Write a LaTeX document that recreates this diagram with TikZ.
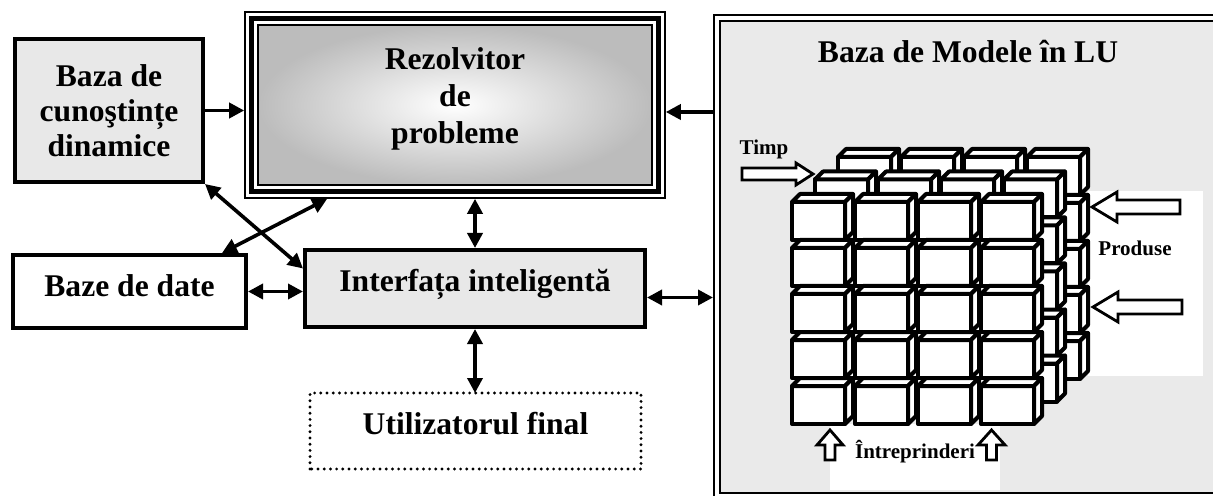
\documentclass[tikz,border=0pt]{standalone}
\usepackage{fontspec}
\setmainfont{Liberation Serif}
\usetikzlibrary{arrows.meta}
\definecolor{boxgray}{HTML}{E8E8E8}
\definecolor{panelgray}{HTML}{EAEAEA}
\definecolor{shadegray}{HTML}{BCBCBC}
\newcommand\bigsize{\fontsize{15.8}{17.5}\selectfont}
\newcommand\rezsize{\fontsize{15.8}{18.5}\selectfont}
\newcommand\smallsize{\fontsize{10.5}{12}\selectfont}
% one small cube: front face with its top-left corner at (#1,#2), plus top and right faces
\newcommand\cubeat[2]{%
  \draw[cubeface] (#1,#2) rectangle ++(53,38);
  \draw[cubeface] (#1,#2) -- ++(8,-8) -- ++(53,0) -- ++(-8,8) -- cycle;
  \draw[cubeface] ({#1+53},#2) -- ++(8,-8) -- ++(0,38) -- ++(-8,8) -- cycle;
}
\begin{document}
\begin{tikzpicture}[x=0.5pt,y=-0.5pt,
  box/.style={draw, line width=2pt, inner sep=0pt, font=\bfseries\bigsize, align=center},
  tip/.tip={Triangle[length=7.5pt,width=7.5pt]},
  arr/.style={line width=1.8pt, -tip},
  darr/.style={line width=1.8pt, tip-tip},
  cubeface/.style={fill=white, line width=2pt, line join=round},
  hollow/.style={draw, fill=white, line width=1.4pt},
  lbl/.style={font=\bfseries\smallsize, inner sep=0pt}]
\useasboundingbox (0,0) rectangle (1213,496);

% model base panel with double border
\node[draw, double=white, double distance=2.25pt, line width=1pt, fill=panelgray,
      minimum width=256.6pt, minimum height=239.1pt, inner sep=0pt, outer sep=1.9pt]
      (mb) at (973.4,257.1) {};
\node[font=\bfseries\bigsize, anchor=base, inner sep=0pt] (mbtitle) at (968,63) {Baza de Modele în LU};

% white backgrounds behind the side labels
\fill[white] (1088,191) rectangle (1203,376);
\fill[white] (830,424) rectangle (1000,490);

% cube of models: three layers of 5 x 4 cubes, drawn back to front
\foreach \l in {2,1,0}{
  \foreach \r in {0,...,4}{
    \foreach \c in {0,...,3}{
      \pgfmathsetmacro\cx{792+63*\c+23*\l}
      \pgfmathsetmacro\cy{202+46*\r-22.5*\l}
      \cubeat{\cx}{\cy}
    }}}

% axis labels and hollow arrows
\node[lbl, anchor=base] (timp) at (764,155) {Timp};
\draw[hollow] (742,168) -- (796,168) -- (796,163) -- (813,174) -- (796,185) -- (796,180) -- (742,180) -- cycle;
\node[lbl, anchor=base] (prod) at (1135,256) {Produse};
\draw[hollow] (1180,200) -- (1117,200) -- (1117,192) -- (1092,207) -- (1117,222) -- (1117,214) -- (1180,214) -- cycle;
\draw[hollow] (1182,300) -- (1118,300) -- (1118,292) -- (1093,307) -- (1118,322) -- (1118,314) -- (1182,314) -- cycle;
\node[lbl, anchor=base] (intr) at (915,458) {Întreprinderi};
\draw[hollow] (825,460) -- (825,445) -- (817,445) -- (830,430) -- (843,445) -- (835,445) -- (835,460) -- cycle;
\draw[hollow] (986.5,460) -- (986.5,445) -- (978,445) -- (991.5,430) -- (1005,445) -- (996.5,445) -- (996.5,460) -- cycle;

% problem solver with triple border and shaded core
\node[draw, line width=0.8pt, fill=white, minimum width=210pt, minimum height=93pt, inner sep=0pt,
  path picture={
    \draw[line width=2.4pt]
      ([shift={(3.4pt,3.4pt)}]path picture bounding box.south west) rectangle
      ([shift={(-3.4pt,-3.4pt)}]path picture bounding box.north east);
    \shadedraw[inner color=white, outer color=shadegray, draw=black, line width=1pt]
      ([shift={(6.6pt,6.6pt)}]path picture bounding box.south west) rectangle
      ([shift={(-6.6pt,-6.6pt)}]path picture bounding box.north east);
  }] (rez) at (455,105) {};
\node[font=\bfseries\rezsize, align=center, inner sep=0pt] (reztext) at (455,99) {Rezolvitor\\de\\probleme};

% other blocks
\node[box, fill=boxgray, minimum width=94pt, minimum height=71.5pt] (bc) at (109,110.5)
  {Baza de\\cunoştințe\\dinamice};
\node[box, fill=white, minimum width=116.5pt, minimum height=36.5pt, text height=0.7em, text depth=0.2em]
  (bd) at (129.5,291.5) {Baze de date};
\node[box, fill=boxgray, minimum width=170pt, minimum height=38.5pt, text height=0.7em, text depth=0.42em]
  (int) at (475,288.5) {Interfața inteligentă};
\node[box, draw=none, fill=white, minimum width=163.5pt, minimum height=36pt, text height=0.7em, text depth=0.32em]
  (uf) at (475.5,431) {Utilizatorul final};
\draw[line width=1.6pt, line cap=round, dash pattern=on 0pt off 3.1pt]
  (uf.south west) rectangle (uf.north east);

% connectors
\coordinate (rezin) at ([yshift=-3.5pt]rez.east);
\coordinate (intout) at ([yshift=-4.5pt]int.east);
\draw[arr] (bc.east) -- (bc.east -| rez.west);
\draw[arr] (rezin -| mb.west) -- (rezin);
\draw[darr] (int.north) -- (int.north |- rez.south);
\draw[darr] (bc.south east) -- ([yshift=10pt]int.west);
\draw[darr] ([xshift=-13pt]bd.north east) -- ([xshift=41.5pt]rez.south west);
\draw[darr] (bd.east) -- (bd.east -| int.west);
\draw[darr] (intout) -- (intout -| mb.west);
\draw[darr] (int.south) -- (int.south |- uf.north);
\end{tikzpicture}
\end{document}
